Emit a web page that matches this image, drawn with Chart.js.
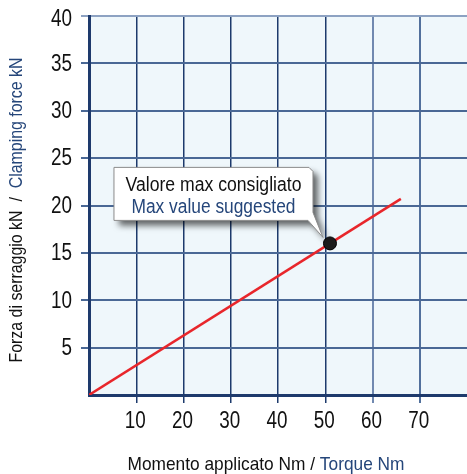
<!DOCTYPE html>
<html>
<head>
<meta charset="utf-8">
<script src="https://cdn.jsdelivr.net/npm/chart.js@4.4.0/dist/chart.umd.min.js"></script>
<style>
html, body { margin: 0; padding: 0; background: #fff; }
</style>
</head>
<body>
<canvas id="chart" width="467" height="474"></canvas>
<script>
// Clamping force vs torque (straight line)
const torqueNm = [0, 66];
const forceKN = [0, 20.7];
// Max recommended value
const maxTorqueNm = [51];
const maxForceKN = [16];
// Tick labels
const xTickValues = [10, 20, 30, 40, 50, 60, 70];
const yTickValues = [5, 10, 15, 20, 25, 30, 35, 40];
// Texts (italian / english)
const xTitle = ['Momento applicato Nm / ', 'Torque Nm'];
const yTitle = ['Forza di serraggio kN  /  ', 'Clamping force kN'];
const calloutText = ['Valore max consigliato', 'Max value suggested'];

const NAVY = '#25467a';
const FONT = '"Liberation Sans", Arial, sans-serif';
const SQUEEZE = 0.82; // the original uses a narrow typeface

// Draw a two coloured label, squeezed to a given width
function twoTone(ctx, parts, x, y, width, size, angle) {
    ctx.save();
    ctx.font = size + 'px ' + FONT;
    const w0 = ctx.measureText(parts[0]).width;
    const w = w0 + ctx.measureText(parts[1]).width;
    ctx.translate(x, y);
    ctx.rotate(angle);
    ctx.scale(width / w, 1);
    ctx.textBaseline = 'middle';
    ctx.textAlign = 'left';
    ctx.fillStyle = '#111';
    ctx.fillText(parts[0], -w / 2, 0);
    ctx.fillStyle = NAVY;
    ctx.fillText(parts[1], -w / 2 + w0, 0);
    ctx.restore();
}

function fitText(ctx, text, x, y, width, color) {
    const w = ctx.measureText(text).width;
    ctx.save();
    ctx.translate(x, y);
    ctx.scale(width / w, 1);
    ctx.fillStyle = color;
    ctx.fillText(text, -w / 2, 0);
    ctx.restore();
}

const plotBackground = {
    id: 'plotBackground',
    beforeDraw(chart) {
        const { ctx, chartArea: a } = chart;
        ctx.save();
        ctx.fillStyle = '#eff7fb';
        ctx.fillRect(a.left, a.top, a.right - a.left, a.bottom - a.top);
        ctx.restore();
    }
};

// Narrow tick labels, placed from the scales' own ticks
const narrowTicks = {
    id: 'narrowTicks',
    afterDraw(chart) {
        const ctx = chart.ctx;
        const sx = chart.scales.x, sy = chart.scales.y;
        ctx.save();
        ctx.font = '23px ' + FONT;
        ctx.fillStyle = '#111';
        ctx.textBaseline = 'middle';
        sx.ticks.forEach(t => {
            const px = sx.getPixelForValue(t.value);
            ctx.save();
            ctx.translate(px - 1, sx.top + 27);
            ctx.scale(SQUEEZE, 1);
            ctx.textAlign = 'center';
            ctx.fillText(String(t.value), 0, 0);
            ctx.restore();
        });
        sy.ticks.forEach(t => {
            const py = sy.getPixelForValue(t.value) + (t.value === 40 ? 4 : 1);
            ctx.save();
            ctx.translate(sy.right - 17, py);
            ctx.scale(SQUEEZE, 1);
            ctx.textAlign = 'right';
            ctx.fillText(String(t.value), 0, 0);
            ctx.restore();
        });
        ctx.restore();
    }
};

const axisTitles = {
    id: 'axisTitles',
    afterDraw(chart) {
        const ctx = chart.ctx;
        twoTone(ctx, xTitle, 266, 465, 277, 19, 0);
        twoTone(ctx, yTitle, 17, 210, 305, 19, -Math.PI / 2);
    }
};

// Callout box pointing at the max value
const callout = {
    id: 'callout',
    afterDatasetsDraw(chart) {
        const ctx = chart.ctx;
        const px = chart.scales.x.getPixelForValue(maxTorqueNm[0]);
        const py = chart.scales.y.getPixelForValue(maxForceKN[0]);
        const left = px - 216, top = py - 76, w = 199, h = 53;
        ctx.save();
        ctx.beginPath();
        ctx.moveTo(left, top);
        ctx.lineTo(left + w - 4, top);
        ctx.lineTo(left + w, top + 4);
        ctx.lineTo(left + w, top + h - 8);
        ctx.lineTo(px - 7, py - 6);
        ctx.lineTo(left + w - 5, top + h);
        ctx.lineTo(left, top + h);
        ctx.closePath();
        ctx.shadowColor = 'rgba(0,0,0,0.6)';
        ctx.shadowBlur = 6;
        ctx.shadowOffsetX = 5;
        ctx.shadowOffsetY = 5;
        ctx.fillStyle = '#fff';
        ctx.fill();
        ctx.shadowColor = 'transparent';
        ctx.strokeStyle = '#8c8c8c';
        ctx.lineWidth = 1;
        ctx.stroke();

        ctx.font = '20px ' + FONT;
        ctx.textBaseline = 'middle';
        const cx = left + w / 2;
        fitText(ctx, calloutText[0], cx, top + 18, 176, '#111');
        fitText(ctx, calloutText[1], cx, top + 40, 164, NAVY);
        ctx.restore();
    }
};

function xGridColor(c) {
    const v = c.tick && c.tick.value;
    if (v === 60) return '#7189b0';
    if (v === 70) return '#52709c';
    return '#1d3a6c';
}
function yGridColor(c) {
    const v = c.tick && c.tick.value;
    if (v === 40) return '#8da2c2';
    return '#4a6895';
}

new Chart(document.getElementById('chart').getContext('2d'), {
    type: 'scatter',
    data: {
        datasets: [
            {
                data: torqueNm.map((x, i) => ({ x: x, y: forceKN[i] })),
                showLine: true,
                borderColor: '#e8262b',
                borderWidth: 2.5,
                pointRadius: 0,
                order: 2
            },
            {
                data: maxTorqueNm.map((x, i) => ({ x: x, y: maxForceKN[i] })),
                pointRadius: 6.5,
                pointBackgroundColor: '#1c1c1c',
                pointBorderColor: '#000',
                pointBorderWidth: 1,
                order: 1
            }
        ]
    },
    options: {
        responsive: false,
        animation: false,
        layout: { autoPadding: false, padding: { top: 16, left: 0, right: 0, bottom: 0 } },
        plugins: { legend: { display: false }, tooltip: { enabled: false } },
        scales: {
            x: {
                type: 'linear',
                min: 0,
                max: 80,
                afterBuildTicks: s => { s.ticks = xTickValues.map(v => ({ value: v })); },
                afterFit: s => { s.height = 79; },
                ticks: { display: false },
                grid: { color: xGridColor, tickColor: xGridColor, lineWidth: c => (c.tick && c.tick.value >= 60) ? 2 : 1.5, tickLength: 8 },
                border: { display: true, color: '#1e3a6c', width: 3 }
            },
            y: {
                type: 'linear',
                min: 0,
                max: 40,
                afterBuildTicks: s => { s.ticks = yTickValues.map(v => ({ value: v })); },
                afterFit: s => { s.width = 89; },
                ticks: { display: false },
                grid: { color: yGridColor, tickColor: yGridColor, lineWidth: 2, tickLength: 8 },
                border: { display: true, color: '#1e3a6c', width: 3 }
            }
        }
    },
    plugins: [plotBackground, narrowTicks, axisTitles, callout]
});
</script>
</body>
</html>
